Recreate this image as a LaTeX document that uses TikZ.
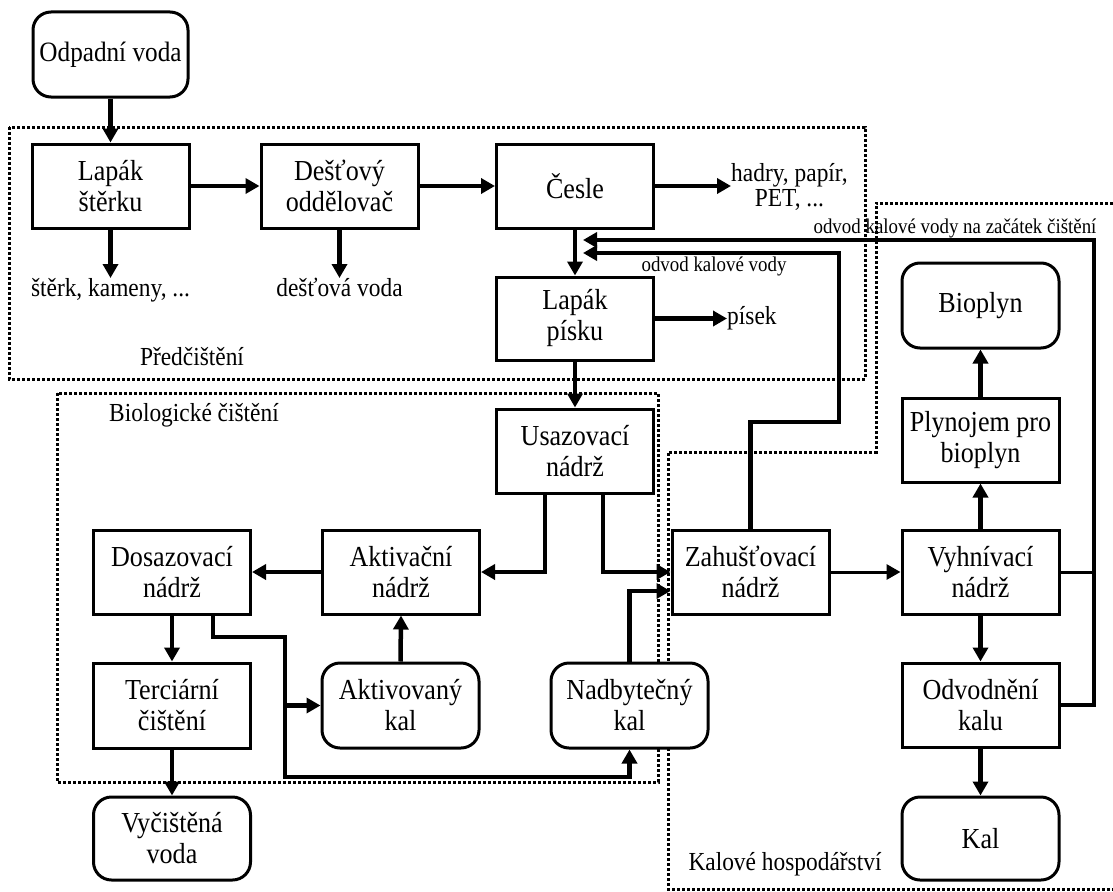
\documentclass[tikz,border=0pt]{standalone}
\usepackage{fontspec}
\setmainfont[FakeStretch=0.9]{Liberation Serif}
\usetikzlibrary{arrows.meta,calc}
\begin{document}
\begin{tikzpicture}[x=1pt,y=-1pt,
  box/.style={draw,fill=white,line width=3pt,minimum width=157pt,minimum height=84pt,inner sep=2pt,align=center,font=\fontsize{29}{31}\selectfont},
  rbox/.style={box,rounded corners=18pt},
  lbl/.style={inner sep=0pt,align=center,font=\fontsize{26}{25}\selectfont},
  slbl/.style={inner sep=0pt,font=\fontsize{21}{22}\selectfont},
  arr/.style={line width=4.5pt,-{Triangle[length=14pt,width=15pt]}},
  tarr/.style={line width=3pt,-{Triangle[length=14pt,width=15pt]}},
  region/.style={line width=3pt,dash pattern=on 3pt off 2pt}]
\useasboundingbox (0,0) rectangle (1113,891);
\fill[white] (0,0) rectangle (1113,891);

% regions
\draw[region] (9,127) rectangle (865,379);
\draw[region] (57,393) rectangle (658,782);
\draw[region] (1113,203) -- (876,203) -- (876,452) -- (668,452) -- (668,889) -- (1113,889);
\node[lbl] (lpred) at (192,357) {Předčištění};
\node[lbl] (lbio) at (194,415) {Biologické čištění};
\node[lbl] (lkal) at (785,864) {Kalové hospodářství};

% nodes
\node[rbox,minimum width=155pt,minimum height=85pt,font=\fontsize{28}{30}\selectfont] (odp) at (110.5,54.5) {Odpadní voda};
\node[box] (lst) at (110.5,186) {Lapák\\štěrku};
\node[box] (des) at (339.5,186) {Dešťový\\oddělovač};
\node[box] (ces) at (575,186) {Česle};
\node[box,minimum height=83pt] (lpi) at (575,318.5) {Lapák\\písku};
\node[box] (usa) at (575,451) {Usazovací\\nádrž};
\node[box] (dos) at (172,572) {Dosazovací\\nádrž};
\node[box] (akt) at (401,572) {Aktivační\\nádrž};
\node[box,minimum height=85pt] (ter) at (172,705.5) {Terciární\\čištění};
\node[rbox,minimum height=85pt] (akk) at (400.5,705.5) {Aktivovaný\\kal};
\node[rbox,minimum height=85pt] (nad) at (629.5,705.5) {Nadbytečný\\kal};
\node[rbox,minimum height=83pt] (vyc) at (172,838.5) {Vyčištěná\\voda};
\node[box] (zah) at (750.5,572) {Zahušťovací\\nádrž};
\node[box] (vyh) at (980.5,572) {Vyhnívací\\nádrž};
\node[box] (ply) at (980.5,440) {Plynojem pro\\bioplyn};
\node[rbox,minimum height=85pt] (bio) at (980.5,305.5) {Bioplyn};
\node[box] (odv) at (980.5,705) {Odvodnění\\kalu};
\node[rbox,minimum height=83pt] (kal) at (980.5,838.5) {Kal};

% output labels
\node[lbl,anchor=north] (stk) at (110.5,278) {štěrk, kameny, ...};
\node[lbl,anchor=north] (dvo) at (339.5,278) {dešťová voda};
\node[lbl,anchor=west] (had) at (731,187) {hadry, papír,\\PET, ...};
\node[lbl,anchor=west] (pis) at (727,318.5) {písek};
\node[slbl] (t1) at (955,228) {odvod kalové vody na začátek čištění};
\node[slbl] (t2) at (714,266) {odvod kalové vody};

% coordinates
\coordinate (r1) at (583,240);
\coordinate (r2) at (583,253);
\coordinate (q) at (1094,705);
\coordinate (z1) at (839,422);
\coordinate (d1) at (213,637);
\coordinate (d2) at (285,637);
\coordinate (d3) at (285,777);

% pre-treatment flow
\draw[arr] (odp.south) -- (lst.north);
\draw[arr] (lst.east) -- (des.west);
\draw[arr] (des.east) -- (ces.west);
\draw[arr] (ces.east) -- (ces.east -| had.west);
\draw[arr] (lst.south) -- (stk.north);
\draw[arr] (des.south) -- (dvo.north);
\draw[arr] (ces.south) -- (lpi.north);
\draw[arr] (lpi.east) -- (pis.west);
\draw[arr] (lpi.south) -- (usa.north);

% biological
\draw[arr] ($(usa.south)+(-30,0)$) |- (akt.east);
\draw[arr] ($(usa.south)+(28,0)$) |- (zah.west);
\draw[arr] (akt.west) -- (dos.east);
\draw[arr] (dos.south) -- (ter.north);
\draw[arr] (ter.south) -- (vyc.north);
\draw[arr] (akk.north) -- (akt.south);
\draw[arr] (dos.south -| d1) -- (d1) -- (d2) -- (d3) -- (d3 -| nad.south) -- (nad.south);
\draw[arr] (akk.west -| d2) -- (akk.west);
\draw[arr] (nad.north) |- ($(zah.west)+(0,19)$);

% sludge
\draw[tarr] (zah.east) -- (vyh.west);
\draw[arr] (vyh.north) -- (ply.south);
\draw[arr] (ply.north) -- (bio.south);
\draw[arr] (vyh.south) -- (odv.north);
\draw[arr] (odv.south) -- (kal.north);
\draw[line width=3pt] (vyh.east) -- (vyh.east -| q);
\draw[arr] (odv.east) -- (q) -- (q |- r1) -- (r1);
\draw[arr] (zah.north) |- (z1) -- (z1 |- r2) -- (r2);
\end{tikzpicture}
\end{document}
